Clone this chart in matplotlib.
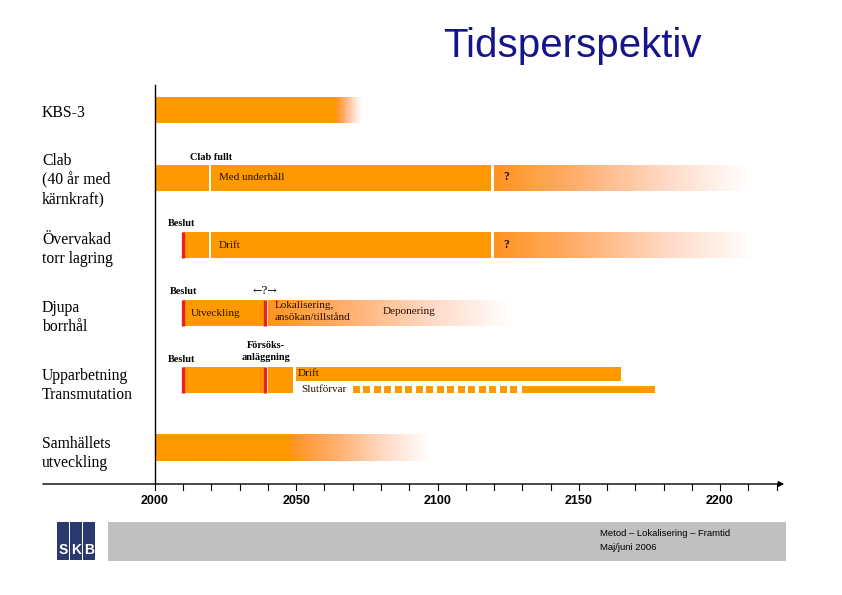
import numpy as np
import matplotlib
matplotlib.use("Agg")
import matplotlib.pyplot as plt
from matplotlib.colors import LinearSegmentedColormap
from matplotlib.patches import Rectangle

# Rows of the time line (top to bottom)
row_labels = ["KBS-3", "Clab\n(40 år med\nkärnkraft)", "Övervakad\ntorr lagring",
              "Djupa\nborrhål", "Upparbetning\nTransmutation", "Samhällets\nutveckling"]

# Solid bar segments: (row, start year, end year)
solid_rows = [1, 1, 2, 2, 3, 4, 4]
solid_start = [2000, 2020, 2010, 2020, 2010, 2010, 2040]
solid_end = [2019, 2119, 2019, 2119, 2039, 2039, 2049]

# Fading bar segments: (row, start year, end year, year where the fade starts)
fade_rows = [0, 1, 2, 3, 5]
fade_start = [2000, 2120, 2120, 2040, 2000]
fade_end = [2073, 2210, 2212, 2126, 2097]
fade_from = [2064, 2120, 2120, 2040, 2048]

# Decisions (red markers): (row, year)
marker_rows = [2, 3, 3, 4, 4]
marker_years = [2010, 2010, 2039, 2010, 2039]

# Upparbetning: operation and final repository
drift_span = (2050, 2165)
slutforvar_dash = (2070, 2129)
slutforvar_solid = (2130, 2177)

years = np.arange(2000, 2221, 10)
year_labels = [2000, 2050, 2100, 2150, 2200]

ORANGE = "#ff9900"
RED = "#e8202a"
fade_cmap = LinearSegmentedColormap.from_list("fade", ["#ff9420", "#ffb070", "#ffd9c4", "#ffffff"])

sans = ["Liberation Sans", "DejaVu Sans"]
serif = ["Liberation Serif", "DejaVu Serif"]

fig = plt.figure(figsize=(8.42, 5.95), dpi=100)
ax = fig.add_axes([0, 0, 1, 1])
# pixel mapping: 2000 -> x=155, 2200 -> x=720 ; row i centre -> y = 110 + 67.6 i
px_per_year = 565 / 200
x0 = 2000 - 155 / px_per_year
x1 = 2000 + (842 - 155) / px_per_year
row_px = 67.6
ax.set_xlim(x0, x1)
ax.set_ylim((595 - 110) / row_px, -110 / row_px)
ax.axis("off")


def px(xp):
    return x0 + xp / px_per_year


def py(yp):
    return (yp - 110) / row_px


bh = 26 / row_px  # bar height in row units

for r, s, e in zip(solid_rows, solid_start, solid_end):
    ax.add_patch(Rectangle((s, r - bh / 2), e - s, bh, color=ORANGE, lw=0))

for r, s, e, f in zip(fade_rows, fade_start, fade_end, fade_from):
    xs = np.linspace(s, e, 400)
    t = np.clip((xs - f) / (e - f), 0, 1)
    img = fade_cmap(t)[np.newaxis, :, :]
    img[0, xs < f, :3] = matplotlib.colors.to_rgb(ORANGE)
    ax.imshow(img, extent=(s, e, r + bh / 2, r - bh / 2), aspect="auto",
              interpolation="bilinear", zorder=1)

for r, yv in zip(marker_rows, marker_years):
    ax.plot([yv, yv], [r - bh / 2, r + bh / 2], color=RED, lw=2.4, solid_capstyle="butt", zorder=3)

# Upparbetning: Drift and Slutförvar
r = 4
dh = 14 / row_px
ax.add_patch(Rectangle((drift_span[0], r - bh / 2), drift_span[1] - drift_span[0], dh, color=ORANGE, lw=0))
sh = 7 / row_px
sy = r + bh / 2 - sh
sq = 7 / px_per_year
step = 10.5 / px_per_year
for xs in np.arange(slutforvar_dash[0], slutforvar_dash[1] - sq + 0.01, step):
    ax.add_patch(Rectangle((xs, sy), sq, sh, color=ORANGE, lw=0))
ax.add_patch(Rectangle((slutforvar_solid[0], sy), slutforvar_solid[1] - slutforvar_solid[0], sh, color=ORANGE, lw=0))

# Axes
y_axis = py(484)
ax.plot([2000, 2000], [py(85), y_axis], color="black", lw=1)
ax.annotate("", xy=(px(787), y_axis), xytext=(px(40), y_axis),
            arrowprops=dict(arrowstyle="-|>", color="black", lw=1, mutation_scale=8))
tick_len = 6 / row_px
for yr in years:
    ax.plot([yr, yr], [y_axis, y_axis + tick_len], color="black", lw=0.8)
for yr in year_labels:
    ax.text(yr, py(501), str(yr), ha="center", va="center", fontsize=9,
            fontweight="bold", family=sans)

# Row labels
label_top = [110, 158, 237, 305, 373, 441]
for lab, top in zip(row_labels, label_top):
    ax.text(px(42), py(top) - 0.07, lab, ha="left", va="top",
            fontsize=11.3, family=serif, linespacing=1.24)

small = dict(fontsize=7.4, fontweight="bold", family=serif, va="center")
inbar = dict(fontsize=8, family=serif, va="center", color="#2a1000")
qmark = dict(fontsize=8.5, fontweight="bold", family=serif, va="center", color="#2a1000")

ax.text(px(190), py(157), "Clab fullt", ha="left", **small)
ax.text(px(219), py(177), "Med underhåll", ha="left", **inbar)
ax.text(px(503), py(177), "?", ha="left", **qmark)

ax.text(px(168), py(224), "Beslut", ha="left", **small)
ax.text(px(219), py(245), "Drift", ha="left", **inbar)
ax.text(px(503), py(245), "?", ha="left", **qmark)

ax.text(px(170), py(292), "Beslut", ha="left", **small)
ax.text(px(265), py(291), "←?→", ha="center", fontsize=8, family=["DejaVu Serif"], va="center")
ax.text(px(191), py(313), "Utveckling", ha="left", **inbar)
ax.text(px(275), py(305), "Lokalisering,", ha="left", **inbar)
ax.text(px(275), py(318), "ansökan/tillstånd", ha="left", **inbar)
ax.text(px(383), py(311), "Deponering", ha="left", **inbar)

ax.text(px(168), py(360), "Beslut", ha="left", **small)
ax.text(px(266), py(346), "Försöks-", ha="center", **small)
ax.text(px(266), py(357), "anläggning", ha="center", **small)
ax.text(px(298), py(374), "Drift", ha="left", **inbar)
ax.text(px(301), py(389), "Slutförvar", ha="left", **inbar)

# Title
fig.text(443 / 842, 1 - 46 / 595, "Tidsperspektiv", ha="left", va="center", fontsize=29,
         family=sans, color="#15158a")

# Footer band and logo
fig.patches.append(Rectangle((108 / 842, 1 - 561 / 595), 678 / 842, 39 / 595,
                             transform=fig.transFigure, color="#c0c0c0", lw=0))
for i, letter in enumerate("SKB"):
    fig.patches.append(Rectangle(((57 + i * 13) / 842, 1 - 560 / 595), 12 / 842, 38 / 595,
                                 transform=fig.transFigure, color="#2b3a6e", lw=0))
    fig.text((63 + i * 13) / 842, 1 - 550 / 595, letter, ha="center", va="center", fontsize=10,
             fontweight="bold", color="white", family=sans)
fig.text(600 / 842, 1 - 534 / 595, "Metod – Lokalisering – Framtid", ha="left", va="center",
         fontsize=6.8, family=sans)
fig.text(600 / 842, 1 - 547 / 595, "Maj/juni 2006", ha="left", va="center",
         fontsize=6.8, family=sans)

fig.savefig("out.png", dpi=100, facecolor="white")
